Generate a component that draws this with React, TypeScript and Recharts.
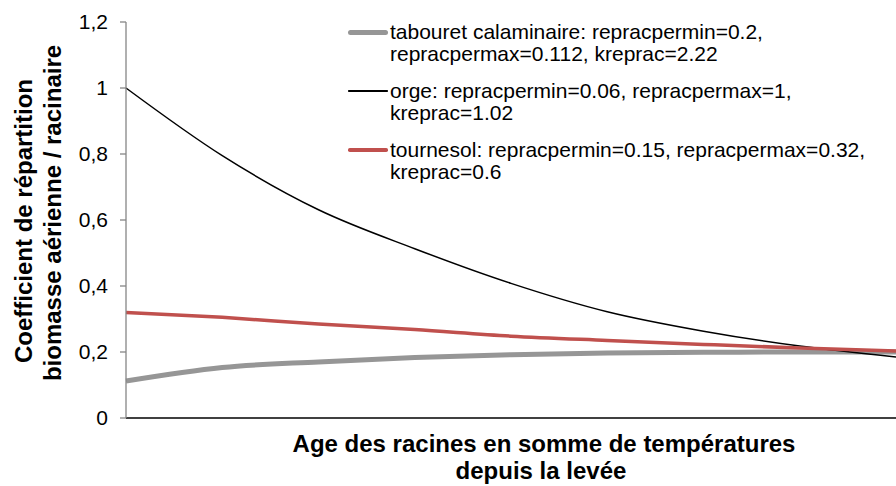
import { LineChart, Line, XAxis, YAxis } from "recharts";

const ages = [0, 1, 2, 3, 4, 5, 6, 7, 8];
const tabouret = [0.112, 0.153, 0.17, 0.183, 0.192, 0.197, 0.199, 0.2, 0.2];
const orge = [1.0, 0.795, 0.631, 0.513, 0.408, 0.322, 0.263, 0.218, 0.185];
const tournesol = [0.32, 0.305, 0.285, 0.268, 0.248, 0.235, 0.223, 0.212, 0.203];
const yTicks = [0, 0.2, 0.4, 0.6, 0.8, 1, 1.2];

const series = [
  { key: "tabouret", color: "#969696", width: 5, lines: ["tabouret calaminaire: repracpermin=0.2,", "repracpermax=0.112, kreprac=2.22"] },
  { key: "orge", color: "#000000", width: 1.5, lines: ["orge: repracpermin=0.06, repracpermax=1,", "kreprac=1.02"] },
  { key: "tournesol", color: "#C0504D", width: 3.5, lines: ["tournesol: repracpermin=0.15, repracpermax=0.32,", "kreprac=0.6"] },
];

const data = ages.map((a, i) => ({
  age: a,
  tabouret: tabouret[i],
  orge: orge[i],
  tournesol: tournesol[i],
}));

const font = "'Liberation Sans', Arial, sans-serif";

function LegendBox() {
  return (
    <div
      style={{
        position: "absolute",
        left: 346,
        top: 21,
        fontFamily: font,
        fontSize: 21,
        color: "#000",
        lineHeight: "22px",
        whiteSpace: "nowrap",
      }}
    >
      {series.map((s) => (
        <div key={s.key} style={{ position: "relative", paddingLeft: 44, marginBottom: 15 }}>
          <div
            style={{
              position: "absolute",
              left: 2,
              top: 11 - s.width / 2,
              width: 40,
              height: s.width,
              background: s.color,
              borderRadius: s.width / 2,
            }}
          />
          {s.lines.map((l) => (
            <div key={l}>{l}</div>
          ))}
        </div>
      ))}
    </div>
  );
}

export default function App() {
  return (
    <div style={{ position: "absolute", left: 0, top: 0, width: 896, height: 486, background: "#fff" }}>
      <LineChart width={896} height={486} data={data} margin={{ top: 22, right: 0, bottom: 0, left: 0 }}>
        <XAxis
          dataKey="age"
          type="number"
          domain={[0, 8]}
          tick={false}
          height={68}
          axisLine={{ stroke: "#000", strokeWidth: 1.3 }}
          tickLine={false}
          label={() => (
            <text textAnchor="middle" fontFamily={font} fontWeight="bold" fontSize={24} fill="#000">
              <tspan x={544} y={452}>Age des racines en somme de températures</tspan>
              <tspan x={541} y={479}>depuis la levée</tspan>
            </text>
          )}
        />
        <YAxis
          width={126}
          domain={[0, 1.2]}
          ticks={yTicks}
          tickFormatter={(v: number) => String(v).replace(".", ",")}
          tick={{ fontFamily: font, fontSize: 21, fill: "#000" }}
          tickSize={6}
          tickMargin={12}
          axisLine={{ stroke: "#868686", strokeWidth: 1.3 }}
          tickLine={{ stroke: "#868686", strokeWidth: 1.3 }}
          label={() => (
            <text
              transform="translate(0,217) rotate(-90)"
              textAnchor="middle"
              fontFamily={font}
              fontWeight="bold"
              fontSize={24}
              fill="#000"
            >
              <tspan x={-4} y={32}>Coefficient de répartition</tspan>
              <tspan x={4} y={61}>biomasse aérienne / racinaire</tspan>
            </text>
          )}
        />
        {series.map((s) => (
          <Line
            key={s.key}
            dataKey={s.key}
            type="monotone"
            stroke={s.color}
            strokeWidth={s.width}
            dot={false}
            isAnimationActive={false}
          />
        ))}
      </LineChart>
      <LegendBox />
    </div>
  );
}
